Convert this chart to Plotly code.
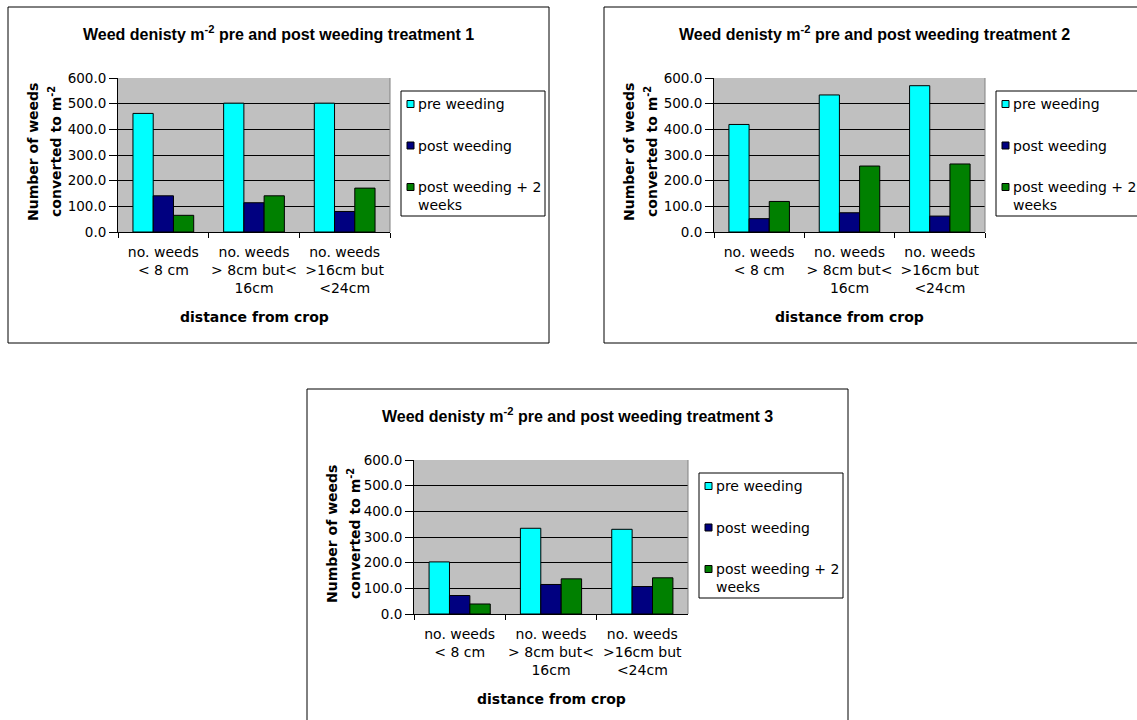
import plotly.graph_objects as go

# ---- data -------------------------------------------------------------
categories = [
    "no. weeds<br>&lt; 8 cm",
    "no. weeds<br>&gt; 8cm but&lt;<br>16cm",
    "no. weeds<br>&gt;16cm but<br>&lt;24cm",
]
series_names = ["pre weeding", "post weeding", "post weeding + 2 weeks"]
legend_labels = ["pre weeding", "post weeding", "post weeding + 2<br>weeks"]
series_colors = ["#00FFFF", "#000080", "#008000"]

t1_pre = [462, 502, 502]
t1_post = [141, 114, 80]
t1_post_2wk = [65, 141, 171]

t2_pre = [419, 534, 570]
t2_post = [52, 75, 62]
t2_post_2wk = [119, 257, 265]

t3_pre = [203, 334, 330]
t3_post = [72, 115, 107]
t3_post_2wk = [39, 137, 141]

titles = [
    "Weed denisty m<sup>-2</sup> pre and post weeding treatment 1",
    "Weed denisty m<sup>-2</sup> pre and post weeding treatment 2",
    "Weed denisty m<sup>-2</sup> pre and post weeding treatment 3",
]
y_tick_values = [0, 100, 200, 300, 400, 500, 600]
x_title = "distance from crop"
y_title_lines = ["Number of weeds", "converted to m<sup>-2</sup>"]

treatments = [
    [t1_pre, t1_post, t1_post_2wk],
    [t2_pre, t2_post, t2_post_2wk],
    [t3_pre, t3_post, t3_post_2wk],
]

# ---- layout geometry (pixels) ------------------------------------------
W, H = 1137, 720
panels = [
    dict(box=(8, 7, 549, 343), plot=(118, 78, 390, 232), legend=(401, 91, 545, 216)),
    dict(box=(604, 7, 1145, 343), plot=(714, 78, 985, 232), legend=(996, 91, 1140, 216)),
    dict(box=(307, 389, 848, 725), plot=(414, 460, 688, 614), legend=(699, 473, 843, 598)),
]


def px(x):
    return x / W


def py(y):
    return 1 - y / H


SANS = "DejaVu Sans, Verdana, sans-serif"
TITLE_FONT = "Liberation Sans, Arial, sans-serif"

fig = go.Figure()
shapes = []
annotations = []
layout_axes = {}

for i, (panel, values, title) in enumerate(zip(panels, treatments, titles)):
    n = i + 1
    xa = "x" if n == 1 else f"x{n}"
    ya = "y" if n == 1 else f"y{n}"
    bx0, by0, bx1, by1 = panel["box"]
    px0, py0, px1, py1 = panel["plot"]
    lx0, ly0, lx1, ly1 = panel["legend"]

    for name, vals, color in zip(series_names, values, series_colors):
        fig.add_trace(go.Bar(
            x=categories, y=vals, name=name, xaxis=xa, yaxis=ya,
            marker=dict(color=color, line=dict(color="#000000", width=1)),
            showlegend=False,
        ))

    layout_axes[f"xaxis{'' if n == 1 else n}"] = dict(
        domain=[px(px0), px(px1)], anchor=ya, type="category",
        showline=True, linecolor="#000000", linewidth=1,
        ticks="outside", tickson="boundaries", ticklen=5, tickcolor="#000000",
        showgrid=False, ticklabelstandoff=7, tickangle=0, automargin=False,
        tickfont=dict(family=SANS, size=14, color="#000000"),
        fixedrange=True,
    )
    layout_axes[f"yaxis{'' if n == 1 else n}"] = dict(
        domain=[py(py1), py(py0)], anchor=xa,
        range=[0, 600], tickvals=y_tick_values, tickformat=".1f",
        showgrid=True, gridcolor="#000000", gridwidth=1, zeroline=False,
        showline=True, linecolor="#000000", linewidth=1, automargin=False,
        ticks="outside", ticklen=8, tickcolor="#000000",
        tickfont=dict(family=SANS, size=13.5, color="#000000"),
        fixedrange=True,
    )

    # outer chart frame
    shapes.append(dict(type="rect", xref="paper", yref="paper",
                       x0=px(bx0), x1=px(bx1), y0=py(by1), y1=py(by0),
                       line=dict(color="#000000", width=1), layer="above"))
    # right edge of the plot area
    shapes.append(dict(type="line", xref="paper", yref="paper",
                       x0=px(px1), x1=px(px1), y0=py(py1), y1=py(py0),
                       line=dict(color="#808080", width=1), layer="above"))

    # chart title
    annotations.append(dict(
        text=title, xref="paper", yref="paper",
        x=px((bx0 + bx1) / 2), y=py(by0 + 26), xanchor="center", yanchor="middle",
        showarrow=False, font=dict(family=TITLE_FONT, size=16, color="#000000", weight="bold"),
    ))
    # axis titles
    annotations.append(dict(
        text=x_title, xref="paper", yref="paper",
        x=px((px0 + px1) / 2), y=py(py1 + 85), xanchor="center", yanchor="middle",
        showarrow=False, font=dict(family=SANS, size=14, color="#000000", weight="bold"),
    ))
    for j, line in enumerate(y_title_lines):
        annotations.append(dict(
            text=line, xref="paper", yref="paper", textangle=-90,
            x=px(bx0 + 25 + 22 * j), y=py((py0 + py1) / 2 - 3), xanchor="center", yanchor="middle",
            showarrow=False, font=dict(family=SANS, size=14, color="#000000", weight="bold"),
        ))

    # legend box
    shapes.append(dict(type="rect", xref="paper", yref="paper",
                       x0=px(lx0), x1=px(lx1), y0=py(ly1), y1=py(ly0),
                       line=dict(color="#000000", width=1), fillcolor="#FFFFFF",
                       layer="above"))
    for k, (label, color) in enumerate(zip(legend_labels, series_colors)):
        cy = ly0 + 13 + k * 41.5
        shapes.append(dict(type="rect", xref="paper", yref="paper",
                           x0=px(lx0 + 6), x1=px(lx0 + 13), y0=py(cy + 3.5), y1=py(cy - 3.5),
                           line=dict(color="#000000", width=1), fillcolor=color,
                           layer="above"))
        annotations.append(dict(
            text=label, xref="paper", yref="paper",
            x=px(lx0 + 15), y=py(cy - 10), xanchor="left", yanchor="top", align="left",
            showarrow=False, font=dict(family=SANS, size=14, color="#000000"),
        ))

fig.update_layout(
    width=W, height=H, autosize=False,
    margin=dict(l=0, r=0, t=0, b=0, pad=0),
    paper_bgcolor="#FFFFFF", plot_bgcolor="#C0C0C0",
    barmode="group", bargap=0.33, bargroupgap=0,
    showlegend=False,
    shapes=shapes, annotations=annotations,
    **layout_axes,
)

fig.write_html("out.html")
